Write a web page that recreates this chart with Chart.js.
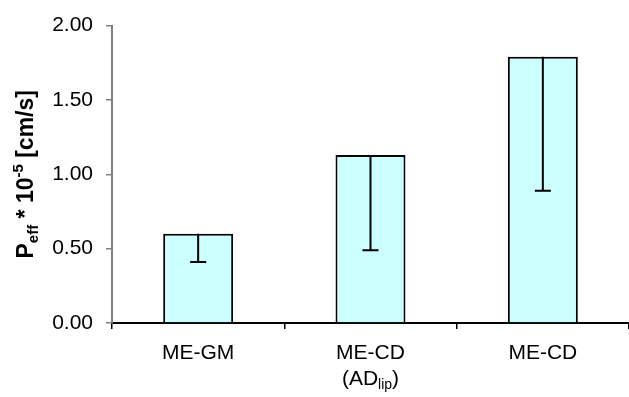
<!DOCTYPE html>
<html>
<head>
<meta charset="utf-8">
<script src="https://cdn.jsdelivr.net/npm/chart.js@4.4.1/dist/chart.umd.min.js"></script>
<style>
  html, body { margin: 0; padding: 0; background: #fff; }
  #wrap { width: 629px; height: 397px; position: relative; }
</style>
</head>
<body>
<div id="wrap"><canvas id="chart"></canvas></div>
<script>
// Данные
const categories = ['ME-GM', 'ME-CD', 'ME-CD'];
const subLabels = [null, { base: '(AD', sub: 'lip', tail: ')' }, null];
const values = [0.60, 1.13, 1.79];
const lowerErr = [0.41, 0.49, 0.89];
const yTicks = [0, 0.5, 1.0, 1.5, 2.0];

const FONT = '"Liberation Sans", Arial, sans-serif';

// планки погрешностей (только вниз)
const errorBars = {
  id: 'errorBars',
  afterDatasetsDraw(chart) {
    const ctx = chart.ctx;
    const meta = chart.getDatasetMeta(0);
    const y = chart.scales.y;
    ctx.save();
    ctx.strokeStyle = '#000';
    ctx.lineWidth = 2;
    meta.data.forEach((bar, i) => {
      const top = y.getPixelForValue(values[i]);
      const low = y.getPixelForValue(lowerErr[i]);
      ctx.beginPath();
      ctx.moveTo(bar.x, top);
      ctx.lineTo(bar.x, low);
      ctx.moveTo(bar.x - 8, low);
      ctx.lineTo(bar.x + 8, low);
      ctx.stroke();
    });
    ctx.restore();
  }
};

// подписи оси X с индексом
const xLabels = {
  id: 'xLabels',
  afterDraw(chart) {
    const ctx = chart.ctx;
    const x = chart.scales.x;
    ctx.save();
    ctx.fillStyle = '#000';
    ctx.textBaseline = 'alphabetic';
    categories.forEach((c, i) => {
      const cx = x.getPixelForValue(i);
      ctx.font = '21px ' + FONT;
      ctx.textAlign = 'center';
      ctx.fillText(c, cx, 359);
      const s = subLabels[i];
      if (s) {
        ctx.textAlign = 'left';
        ctx.font = '21px ' + FONT;
        const w1 = ctx.measureText(s.base).width;
        const w3 = ctx.measureText(s.tail).width;
        ctx.font = '14px ' + FONT;
        const w2 = ctx.measureText(s.sub).width;
        let px = cx - (w1 + w2 + w3) / 2;
        const base = 385;
        ctx.font = '21px ' + FONT;
        ctx.fillText(s.base, px, base); px += w1;
        ctx.font = '14px ' + FONT;
        ctx.fillText(s.sub, px, base + 4); px += w2;
        ctx.font = '21px ' + FONT;
        ctx.fillText(s.tail, px, base);
      }
    });
    ctx.restore();
  }
};

// заголовок оси Y
const yTitle = {
  id: 'yTitle',
  afterDraw(chart) {
    const ctx = chart.ctx;
    const area = chart.chartArea;
    const parts = [
      { t: 'P', size: 23, dy: 0 },
      { t: 'eff', size: 15, dy: 5 },
      { t: ' * 10', size: 23, dy: 0 },
      { t: '-5', size: 15, dy: -10 },
      { t: ' [cm/s]', size: 23, dy: 0 }
    ];
    ctx.save();
    let total = 0;
    parts.forEach(p => {
      ctx.font = 'bold ' + p.size + 'px ' + FONT;
      p.w = ctx.measureText(p.t).width;
      total += p.w;
    });
    ctx.translate(33, (area.top + area.bottom) / 2);
    ctx.rotate(-Math.PI / 2);
    ctx.fillStyle = '#000';
    ctx.textAlign = 'left';
    ctx.textBaseline = 'alphabetic';
    let px = -total / 2;
    parts.forEach(p => {
      ctx.font = 'bold ' + p.size + 'px ' + FONT;
      ctx.fillText(p.t, px, p.dy);
      px += p.w;
    });
    ctx.restore();
  }
};

new Chart(document.getElementById('chart'), {
  type: 'bar',
  data: {
    labels: categories,
    datasets: [{
      data: values,
      backgroundColor: '#ccffff',
      borderColor: '#000',
      borderWidth: 2,
      categoryPercentage: 1,
      barPercentage: 0.406
    }]
  },
  options: {
    responsive: true,
    maintainAspectRatio: false,
    animation: false,
    layout: { padding: { top: 25, right: 0, left: 0, bottom: 0 } },
    plugins: { legend: { display: false }, tooltip: { enabled: false } },
    scales: {
      x: {
        grid: { display: true, drawOnChartArea: false, drawTicks: true, tickLength: 6, color: '#000', lineWidth: 1.5, offset: true },
        border: { color: '#000', width: 2 },
        ticks: { display: false },
        afterFit: s => { s.height = 74; }
      },
      y: {
        min: 0,
        max: 2,
        afterBuildTicks: s => { s.ticks = yTicks.map(v => ({ value: v })); },
        grid: { drawOnChartArea: false, tickLength: 6, color: '#808080', lineWidth: 1.5 },
        border: { color: '#808080', width: 2 },
        ticks: {
          color: '#000',
          padding: 13,
          font: { family: FONT, size: 21 },
          callback: v => Number(v).toFixed(2)
        },
        afterFit: s => { s.width = 112; }
      }
    }
  },
  plugins: [errorBars, xLabels, yTitle]
});
</script>
</body>
</html>
